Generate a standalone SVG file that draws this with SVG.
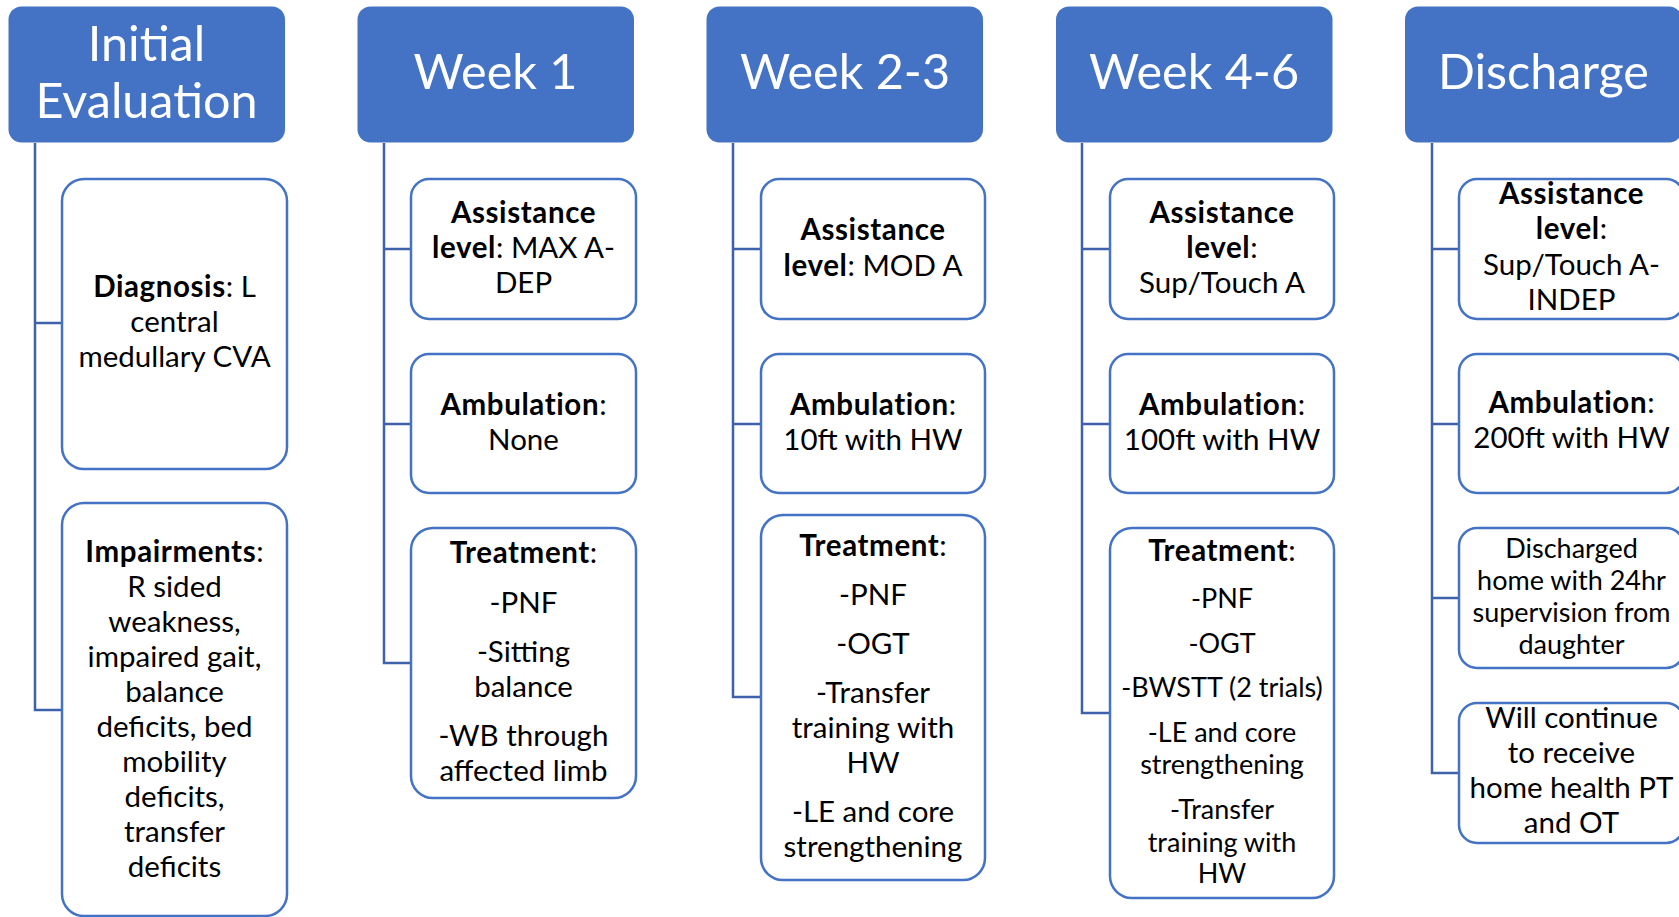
<svg xmlns="http://www.w3.org/2000/svg" width="1679" height="917" viewBox="0 0 1679 917">
<style>
.hdr{fill:#4472C4;}
.ht{fill:#fff;font-family:Lato,"Liberation Sans",sans-serif;font-size:48.5px;text-anchor:middle;}
.box{fill:#fff;stroke:#4472C4;stroke-width:2.5;}
.t{fill:#000;font-family:Lato,"Liberation Sans",sans-serif;font-size:29.5px;text-anchor:middle;}
.s{font-size:27px;}
.b{font-weight:bold;letter-spacing:0.6px;}
.big{font-size:29.5px;}
.con{fill:none;stroke:#3D62AA;stroke-width:2.5;}
</style>
<rect width="1679" height="917" fill="#fff"/>
<g id="connectors">
<path class="con" d="M35 143V710H62M35 323H62"/>
<path class="con" d="M384 143V663H411M384 249H411M384 424H411"/>
<path class="con" d="M733 143V697H761M733 249H761M733 424H761"/>
<path class="con" d="M1082 143V713H1110M1082 249H1110M1082 424H1110"/>
<path class="con" d="M1432 143V773H1459M1432 249H1459M1432 424H1459M1432 598H1459"/>
</g>
<g id="h-initial"><rect class="hdr" x="8.5" y="6.5" width="276.5" height="136" rx="13"/><text class="ht"><tspan x="146.5" y="61">Initial</tspan><tspan x="146.5" y="118">Evaluation</tspan></text></g>
<g id="h-week1"><rect class="hdr" x="357.5" y="6.5" width="276.5" height="136" rx="13"/><text class="ht" x="495.5" y="89">Week 1</text></g>
<g id="h-week23"><rect class="hdr" x="706.5" y="6.5" width="276.5" height="136" rx="13"/><text class="ht" x="845" y="89">Week 2-3</text></g>
<g id="h-week46"><rect class="hdr" x="1056" y="6.5" width="276.5" height="136" rx="13"/><text class="ht" x="1194" y="89">Week 4-6</text></g>
<g id="h-discharge"><rect class="hdr" x="1405" y="6.5" width="277" height="136" rx="13"/><text class="ht" x="1543.5" y="89">Discharge</text></g>

<g id="n-diagnosis"><rect class="box" x="62" y="179" width="225" height="290" rx="22"/><text class="t"><tspan x="174.5" y="297"><tspan class="b">Diagnosis</tspan>: L</tspan><tspan x="174.5" y="332">central</tspan><tspan x="174.5" y="367">medullary CVA</tspan></text></g>
<g id="n-impair"><rect class="box" x="62" y="503" width="225" height="413" rx="22"/><text class="t"><tspan x="174.5" y="562"><tspan class="b">Impairments</tspan>:</tspan><tspan x="174.5" y="597">R sided</tspan><tspan x="174.5" y="632">weakness,</tspan><tspan x="174.5" y="667">impaired gait,</tspan><tspan x="174.5" y="702">balance</tspan><tspan x="174.5" y="737">deficits, bed</tspan><tspan x="174.5" y="772">mobility</tspan><tspan x="174.5" y="807">deficits,</tspan><tspan x="174.5" y="842">transfer</tspan><tspan x="174.5" y="877">deficits</tspan></text></g>

<g id="n-w1-assist"><rect class="box" x="411" y="179" width="225" height="140" rx="18"/><text class="t"><tspan x="523.5" y="223" class="b">Assistance</tspan><tspan x="523.5" y="258"><tspan class="b">level</tspan>: MAX A-</tspan><tspan x="523.5" y="293">DEP</tspan></text></g>
<g id="n-w1-amb"><rect class="box" x="411" y="354" width="225" height="139" rx="18"/><text class="t"><tspan x="523.5" y="415"><tspan class="b">Ambulation</tspan>:</tspan><tspan x="523.5" y="450">None</tspan></text></g>
<g id="n-w1-treat"><rect class="box" x="411" y="528" width="225" height="270" rx="22"/><text class="t"><tspan x="523.5" y="563"><tspan class="b">Treatment</tspan>:</tspan><tspan x="523.5" y="613">-PNF</tspan><tspan x="523.5" y="662">-Sitting</tspan><tspan x="523.5" y="697">balance</tspan><tspan x="523.5" y="746">-WB through</tspan><tspan x="523.5" y="781">affected limb</tspan></text></g>

<g id="n-w23-assist"><rect class="box" x="761" y="179" width="224" height="140" rx="18"/><text class="t"><tspan x="873" y="240" class="b">Assistance</tspan><tspan x="873" y="276"><tspan class="b">level</tspan>: MOD A</tspan></text></g>
<g id="n-w23-amb"><rect class="box" x="761" y="354" width="224" height="139" rx="18"/><text class="t"><tspan x="873" y="415"><tspan class="b">Ambulation</tspan>:</tspan><tspan x="873" y="450">10ft with HW</tspan></text></g>
<g id="n-w23-treat"><rect class="box" x="761" y="515" width="224" height="365" rx="22"/><text class="t"><tspan x="873" y="556"><tspan class="b">Treatment</tspan>:</tspan><tspan x="873" y="605">-PNF</tspan><tspan x="873" y="654">-OGT</tspan><tspan x="873" y="703">-Transfer</tspan><tspan x="873" y="738">training with</tspan><tspan x="873" y="773">HW</tspan><tspan x="873" y="822">-LE and core</tspan><tspan x="873" y="857">strengthening</tspan></text></g>

<g id="n-w46-assist"><rect class="box" x="1110" y="179" width="224" height="140" rx="18"/><text class="t"><tspan x="1222" y="223" class="b">Assistance</tspan><tspan x="1222" y="258"><tspan class="b">level</tspan>:</tspan><tspan x="1222" y="293">Sup/Touch A</tspan></text></g>
<g id="n-w46-amb"><rect class="box" x="1110" y="354" width="224" height="139" rx="18"/><text class="t"><tspan x="1222" y="415"><tspan class="b">Ambulation</tspan>:</tspan><tspan x="1222" y="450">100ft with HW</tspan></text></g>
<g id="n-w46-treat"><rect class="box" x="1110" y="528" width="224" height="370" rx="22"/><text class="t s"><tspan x="1222" y="561" class="big"><tspan class="b">Treatment</tspan>:</tspan><tspan x="1222" y="608">-PNF</tspan><tspan x="1222" y="653">-OGT</tspan><tspan x="1222" y="697">-BWSTT (2 trials)</tspan><tspan x="1222" y="742">-LE and core</tspan><tspan x="1222" y="774">strengthening</tspan><tspan x="1222" y="819">-Transfer</tspan><tspan x="1222" y="852">training with</tspan><tspan x="1222" y="883">HW</tspan></text></g>

<g id="n-d-assist"><rect class="box" x="1459" y="179" width="225" height="140" rx="18"/><text class="t"><tspan x="1571.5" y="204" class="b">Assistance</tspan><tspan x="1571.5" y="239"><tspan class="b">level</tspan>:</tspan><tspan x="1571.5" y="275">Sup/Touch A-</tspan><tspan x="1571.5" y="310">INDEP</tspan></text></g>
<g id="n-d-amb"><rect class="box" x="1459" y="354" width="225" height="139" rx="18"/><text class="t"><tspan x="1571.5" y="413"><tspan class="b">Ambulation</tspan>:</tspan><tspan x="1571.5" y="448">200ft with HW</tspan></text></g>
<g id="n-d-home"><rect class="box" x="1459" y="528" width="225" height="140" rx="18"/><text class="t s"><tspan x="1571.5" y="558">Discharged</tspan><tspan x="1571.5" y="590">home with 24hr</tspan><tspan x="1571.5" y="622">supervision from</tspan><tspan x="1571.5" y="654">daughter</tspan></text></g>
<g id="n-d-cont"><rect class="box" x="1459" y="703" width="225" height="140" rx="18"/><text class="t"><tspan x="1571.5" y="728">Will continue</tspan><tspan x="1571.5" y="763">to receive</tspan><tspan x="1571.5" y="798">home health PT</tspan><tspan x="1571.5" y="833">and OT</tspan></text></g>
</svg>
